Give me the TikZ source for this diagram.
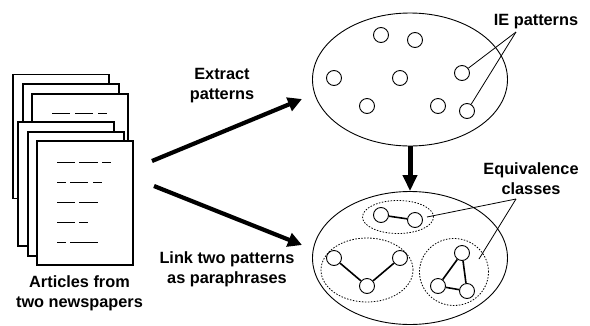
\documentclass[tikz,border=0pt]{standalone}
\usepackage{fontspec}
\setmainfont{Liberation Sans}
\usetikzlibrary{arrows.meta,shapes.geometric}

\tikzset{
  page/.style={draw,line width=1.8pt,fill=white,minimum width=96pt,minimum height=124pt,inner sep=0pt},
  cloud/.style={draw,ellipse,line width=0.9pt,minimum width=195pt,minimum height=133pt,inner sep=0pt},
  group/.style={draw,ellipse,dashed,dash pattern=on 1.5pt off 1.5pt,line width=0.8pt,inner sep=0pt},
  pat/.style={draw,circle,fill=white,line width=0.9pt,minimum size=15pt,inner sep=0pt},
  lbl/.style={font=\bfseries\fontsize{16.3}{20}\selectfont,align=center,inner sep=0pt},
  link/.style={line width=1.6pt},
  pointer/.style={line width=0.8pt},
  bigarrow/.style={line width=4.2pt,-{Triangle[length=14pt,width=14pt]}},
  txtline/.style={line width=0.8pt}
}

\begin{document}
\begin{tikzpicture}[x=1pt,y=-1pt]
\useasboundingbox (0,0) rectangle (590,325);

% first stack
\node[page] (p1) at (61,136.5) {};
\node[page] (p2) at (71,146) {};
\node[page] (p3) at (80,156) {};
\draw[txtline] (52,113) -- (70,113) (75,113) -- (93,113) (98,113) -- (107,113);
% second stack
\node[page] (p4) at (66,184) {};
\node[page] (p5) at (76,194) {};
\node[page] (p6) at (85,203) {};
\draw[txtline] (57,162) -- (75,162) (79,162) -- (98,162) (102,162) -- (111,162);
\draw[txtline] (57,182) -- (66,182) (70,182) -- (88,182) (93,182) -- (102,182);
\draw[txtline] (57,202) -- (75,202) (79,202) -- (98,202);
\draw[txtline] (57,222) -- (75,222) (79,222) -- (88,222);
\draw[txtline] (57,242) -- (66,242) (70,242) -- (98,242);
\node[lbl] (articles) at (79.5,293.5) {Articles from\\ two newspapers};

% pattern sets
\node[cloud] (top) at (410,79.5) {};
\node[cloud] (bottom) at (410,258) {};

\node[pat] (t1) at (381,35) {};
\node[pat] (t2) at (415,40) {};
\node[pat] (t3) at (334,78) {};
\node[pat] (t4) at (400,78) {};
\node[pat] (t5) at (462,73) {};
\node[pat] (t6) at (367,106) {};
\node[pat] (t7) at (438,106) {};
\node[pat] (t8) at (467,111) {};

\node[group,minimum width=71pt,minimum height=33pt] (g1) at (398,217) {};
\node[group,minimum width=92pt,minimum height=64pt] (g2) at (367,270) {};
\node[group,minimum width=69pt,minimum height=67pt] (g3) at (454,272) {};

\node[pat] (b1) at (381,215) {};
\node[pat] (b2) at (415,220) {};
\node[pat] (b3) at (334,258) {};
\node[pat] (b4) at (400,258) {};
\node[pat] (b5) at (367,286) {};
\node[pat] (b6) at (462,253) {};
\node[pat] (b7) at (438,286) {};
\node[pat] (b8) at (467,291) {};

\draw[link] (b1) -- (b2);
\draw[link] (b3) -- (b5);
\draw[link] (b5) -- (b4);
\draw[link] (b6) -- (b7);
\draw[link] (b7) -- (b8);
\draw[link] (b8) -- (b6);

% labels and pointers
\node[lbl] (ie) at (536,22) {IE patterns};
\node[lbl] (equiv) at (531,179) {Equivalence\\ classes};
\coordinate (ietip) at (516,32);
\coordinate (eqtip) at (516,199);
\coordinate (g1end) at (427,217);
\coordinate (g3end) at (479,259);
\draw[pointer] (ietip) -- (t5);
\draw[pointer] (ietip) -- (t8);
\draw[pointer] (eqtip) -- (g1end);
\draw[pointer] (eqtip) -- (g3end);

% main arrows
\coordinate (out1) at (152,161);
\coordinate (in1) at (302,99);
\coordinate (out2) at (154,186);
\coordinate (in2) at (302,245);
\draw[bigarrow] (out1) -- (in1);
\draw[bigarrow] (out2) -- (in2);
\draw[bigarrow,line width=5pt,-{Triangle[length=16pt,width=14pt]}] (top) -- (bottom);
\node[lbl] (extract) at (222,85.5) {Extract\\ patterns};
\node[lbl] (linktwo) at (227,269.5) {Link two patterns\\ as paraphrases};

\end{tikzpicture}
\end{document}
